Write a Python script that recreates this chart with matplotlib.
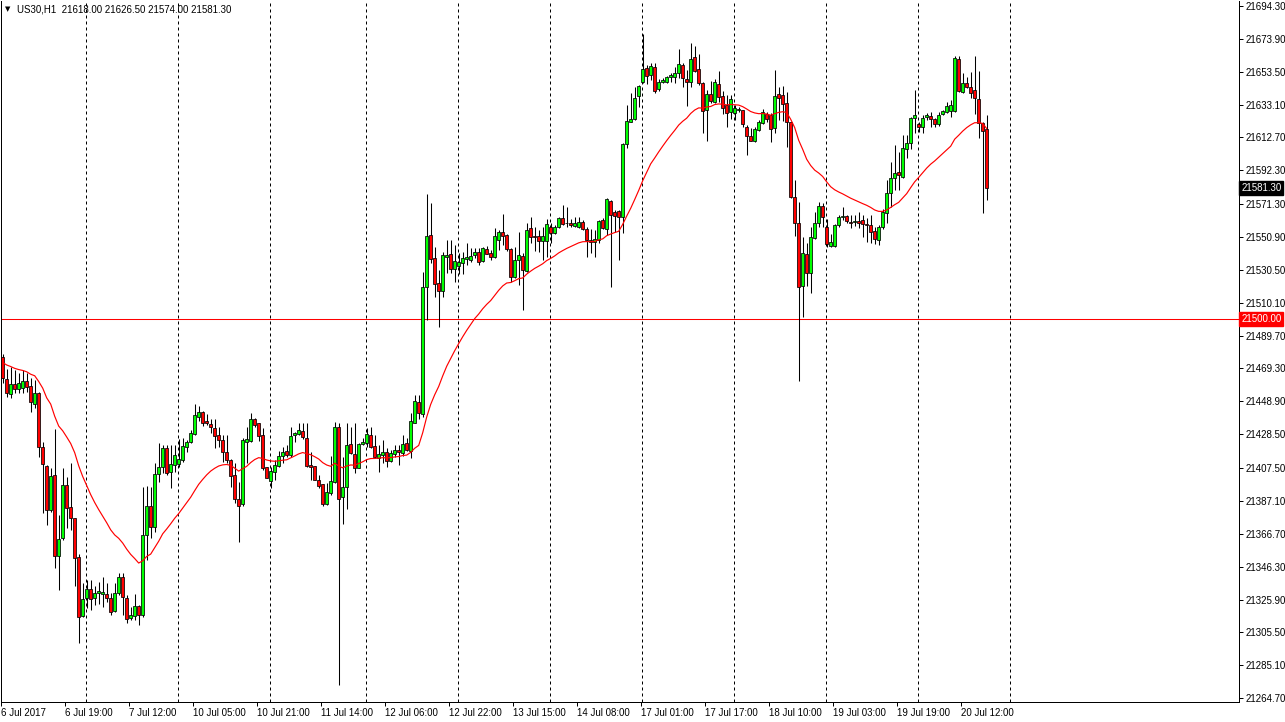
import matplotlib
matplotlib.use("Agg")
import matplotlib.pyplot as plt
import matplotlib.transforms as mtransforms
import numpy as np

# ---------------- data (US30, H1) ----------------
header_symbol = "US30,H1"
header_ohlc = "21618.00 21626.50 21574.00 21581.30"

opens = [
    21476.2, 21462.6, 21453.3, 21459.5, 21456.4, 21457.0, 21461.5, 21458.4, 21447.3, 21454.3,
    21420.4, 21408.8, 21381.5, 21403.2, 21353.1, 21363.9, 21397.0, 21383.5, 21376.3, 21352.1,
    21315.7, 21326.6, 21332.2, 21326.6, 21329.7, 21329.3, 21329.1, 21326.6, 21319.0, 21329.7,
    21340.1, 21326.6, 21314.2, 21315.7, 21321.9, 21316.3, 21366.0, 21383.9, 21370.7, 21403.8,
    21408.4, 21419.7, 21405.3, 21409.4, 21410.0, 21412.5, 21420.4, 21423.9, 21428.6, 21439.4,
    21442.2, 21436.7, 21434.6, 21432.1, 21428.0, 21424.9, 21417.6, 21412.4, 21403.1, 21388.6,
    21385.1, 21423.8, 21424.4, 21437.7, 21435.6, 21428.0, 21407.9, 21399.4, 21405.2, 21408.7,
    21414.9, 21418.0, 21415.3, 21428.0, 21428.6, 21430.5, 21425.9, 21409.1, 21408.7, 21400.4,
    21397.3, 21384.9, 21391.8, 21399.0, 21432.7, 21389.3, 21395.9, 21422.2, 21416.0, 21407.7,
    21422.4, 21422.9, 21428.0, 21421.4, 21413.5, 21415.6, 21417.3, 21412.1, 21416.2, 21418.7,
    21417.1, 21422.9, 21418.3, 21435.7, 21448.3, 21441.0, 21520.1, 21552.2, 21537.7, 21522.2,
    21517.6, 21538.7, 21540.2, 21530.9, 21532.9, 21535.0, 21537.1, 21536.6, 21539.5, 21541.8,
    21536.2, 21543.5, 21540.8, 21538.7, 21549.1, 21553.8, 21552.2, 21543.5, 21526.3, 21536.6,
    21539.1, 21530.0, 21556.3, 21551.5, 21551.5, 21548.6, 21548.6, 21556.9, 21553.6, 21556.9,
    21562.5, 21559.8, 21559.8, 21557.7, 21557.3, 21560.4, 21555.9, 21549.1, 21548.0, 21549.1,
    21561.5, 21555.7, 21573.5, 21566.6, 21567.1, 21563.1, 21608.4, 21622.5, 21623.9, 21638.4,
    21647.3, 21655.6, 21651.5, 21656.6, 21642.6, 21647.3, 21646.9, 21650.4, 21650.4, 21652.5,
    21657.7, 21648.8, 21646.9, 21662.4, 21655.0, 21646.7, 21629.7, 21639.7, 21634.9, 21645.9,
    21638.4, 21632.8, 21628.7, 21627.7, 21629.7, 21629.7, 21619.0, 21613.6, 21610.7, 21617.3,
    21621.5, 21627.3, 21626.6, 21618.8, 21639.7, 21639.1, 21634.3, 21622.5, 21575.9, 21559.8,
    21520.5, 21540.4, 21528.4, 21550.1, 21559.4, 21570.2, 21557.3, 21545.3, 21545.3, 21558.4,
    21563.1, 21564.0, 21560.4, 21560.2, 21560.9, 21561.5, 21559.2, 21558.4, 21554.7, 21549.1,
    21556.9, 21565.6, 21578.4, 21587.3, 21591.1, 21588.4, 21605.8, 21609.5, 21624.6, 21621.1,
    21619.0, 21625.6, 21626.0, 21624.2, 21620.9, 21627.1, 21628.7, 21629.3, 21629.3, 21661.2,
    21641.1, 21646.3, 21644.2, 21642.2, 21636.4, 21621.5, 21618.0,
]
highs = [
    21478.3, 21468.8, 21470.4, 21468.4, 21466.3, 21468.4, 21466.3, 21463.2, 21462.2, 21454.9,
    21423.9, 21409.4, 21407.3, 21431.8, 21378.4, 21407.3, 21402.2, 21410.4, 21376.3, 21354.2,
    21335.9, 21338.0, 21338.0, 21334.3, 21337.0, 21339.7, 21335.9, 21329.7, 21335.9, 21342.2,
    21342.2, 21328.7, 21321.5, 21329.3, 21322.5, 21395.9, 21396.4, 21395.9, 21410.4, 21422.9,
    21421.8, 21421.8, 21421.8, 21421.8, 21425.3, 21425.9, 21424.9, 21431.1, 21447.3, 21446.0,
    21442.9, 21440.8, 21437.7, 21437.7, 21433.1, 21428.0, 21428.0, 21412.9, 21410.8, 21399.0,
    21425.9, 21433.1, 21441.4, 21438.7, 21435.6, 21432.5, 21407.9, 21408.3, 21412.4, 21418.0,
    21420.7, 21421.8, 21433.1, 21430.0, 21435.2, 21435.6, 21435.6, 21417.6, 21408.7, 21403.1,
    21397.3, 21398.0, 21414.9, 21435.8, 21435.6, 21414.5, 21435.2, 21433.1, 21435.2, 21422.8,
    21425.9, 21432.2, 21432.8, 21428.0, 21421.8, 21424.9, 21419.7, 21418.7, 21421.8, 21421.8,
    21428.0, 21425.9, 21441.5, 21452.8, 21452.8, 21529.4, 21577.6, 21571.8, 21544.9, 21530.4,
    21541.8, 21549.1, 21549.1, 21546.0, 21540.8, 21541.8, 21547.4, 21543.9, 21543.9, 21543.9,
    21544.9, 21545.3, 21542.9, 21556.3, 21555.3, 21565.2, 21552.8, 21543.9, 21544.5, 21553.8,
    21541.2, 21559.8, 21563.5, 21557.3, 21555.3, 21556.9, 21561.9, 21559.4, 21558.4, 21563.1,
    21570.8, 21569.7, 21561.9, 21563.1, 21563.5, 21561.5, 21557.3, 21555.7, 21555.3, 21561.5,
    21562.5, 21574.9, 21573.9, 21567.7, 21567.7, 21609.1, 21632.8, 21640.1, 21644.2, 21645.3,
    21676.9, 21657.7, 21658.7, 21658.7, 21648.8, 21649.4, 21650.8, 21652.9, 21656.6, 21667.6,
    21658.7, 21654.6, 21671.1, 21669.5, 21664.5, 21647.3, 21642.2, 21647.9, 21648.8, 21654.2,
    21641.7, 21639.1, 21639.1, 21632.8, 21631.4, 21629.7, 21620.4, 21618.4, 21619.0, 21623.5,
    21630.2, 21628.7, 21627.7, 21654.6, 21644.2, 21644.6, 21641.1, 21622.5, 21586.3, 21572.8,
    21550.7, 21547.0, 21557.3, 21566.6, 21572.8, 21572.2, 21561.9, 21552.8, 21559.0, 21564.6,
    21569.3, 21564.6, 21564.6, 21564.6, 21566.7, 21564.6, 21562.5, 21564.6, 21557.3, 21558.4,
    21568.1, 21586.3, 21597.7, 21608.0, 21603.9, 21614.2, 21614.2, 21625.6, 21642.2, 21622.5,
    21626.7, 21627.7, 21628.7, 21624.6, 21628.7, 21629.8, 21634.9, 21636.0, 21663.3, 21663.3,
    21652.5, 21650.0, 21653.6, 21663.3, 21654.2, 21622.5, 21626.5,
]
lows = [
    21460.1, 21451.8, 21450.8, 21453.9, 21453.9, 21453.9, 21454.9, 21442.5, 21444.6, 21414.6,
    21379.4, 21372.2, 21380.4, 21345.7, 21331.8, 21362.9, 21370.1, 21369.1, 21334.3, 21299.1,
    21315.3, 21320.4, 21319.4, 21322.5, 21323.1, 21321.5, 21324.6, 21316.3, 21318.4, 21328.7,
    21316.3, 21311.1, 21313.2, 21313.2, 21310.1, 21315.3, 21350.4, 21363.9, 21368.0, 21399.1,
    21404.2, 21403.2, 21394.9, 21405.3, 21408.4, 21411.5, 21417.7, 21422.9, 21428.0, 21436.9,
    21433.8, 21434.2, 21429.0, 21419.7, 21420.7, 21411.4, 21410.4, 21395.9, 21386.0, 21361.8,
    21383.9, 21410.4, 21423.8, 21433.1, 21424.2, 21406.6, 21401.1, 21394.9, 21400.0, 21407.9,
    21410.4, 21414.5, 21414.5, 21423.8, 21428.0, 21425.3, 21407.9, 21400.0, 21400.0, 21394.9,
    21383.9, 21384.5, 21390.7, 21398.0, 21272.8, 21372.7, 21382.4, 21416.2, 21404.6, 21407.3,
    21421.8, 21420.8, 21420.2, 21413.5, 21405.3, 21410.4, 21408.0, 21411.5, 21414.6, 21409.4,
    21415.0, 21418.3, 21413.5, 21435.3, 21437.7, 21439.4, 21499.4, 21535.0, 21513.9, 21495.3,
    21513.9, 21528.4, 21528.4, 21523.2, 21527.9, 21527.7, 21533.5, 21535.6, 21537.7, 21533.5,
    21535.6, 21540.4, 21536.6, 21537.7, 21542.9, 21545.9, 21542.4, 21523.2, 21525.3, 21521.1,
    21505.6, 21529.4, 21547.0, 21542.4, 21541.8, 21536.6, 21538.7, 21547.0, 21552.8, 21556.3,
    21558.4, 21556.9, 21557.3, 21556.9, 21556.7, 21555.3, 21538.7, 21541.2, 21538.7, 21547.0,
    21555.7, 21552.2, 21520.1, 21554.2, 21536.6, 21553.2, 21605.9, 21622.5, 21623.5, 21631.8,
    21646.3, 21645.9, 21648.4, 21640.1, 21641.7, 21646.3, 21646.3, 21647.3, 21646.7, 21649.4,
    21644.2, 21632.2, 21643.8, 21653.5, 21645.3, 21615.7, 21610.7, 21633.9, 21634.3, 21634.9,
    21627.3, 21619.4, 21623.9, 21623.5, 21628.7, 21619.4, 21601.8, 21610.7, 21610.1, 21616.9,
    21620.8, 21622.5, 21610.1, 21615.3, 21623.5, 21623.1, 21607.0, 21574.9, 21551.7, 21461.7,
    21501.5, 21520.5, 21516.4, 21549.5, 21557.3, 21556.9, 21544.9, 21544.9, 21544.5, 21557.3,
    21561.5, 21559.4, 21556.3, 21557.8, 21556.3, 21551.1, 21548.0, 21547.0, 21546.6, 21546.0,
    21555.7, 21559.8, 21569.8, 21580.1, 21580.1, 21587.3, 21599.8, 21605.3, 21615.3, 21616.3,
    21615.7, 21623.6, 21619.4, 21619.0, 21619.8, 21626.4, 21627.7, 21625.6, 21628.7, 21641.1,
    21640.1, 21643.2, 21637.0, 21627.3, 21612.2, 21565.6, 21574.0,
]
closes = [
    21463.2, 21453.9, 21459.5, 21456.4, 21460.1, 21461.8, 21457.6, 21448.3, 21453.9, 21420.4,
    21409.8, 21381.5, 21402.6, 21353.1, 21363.3, 21397.0, 21382.5, 21376.3, 21351.5, 21315.3,
    21326.0, 21332.2, 21326.0, 21329.7, 21331.2, 21330.4, 21327.1, 21318.4, 21329.7, 21339.7,
    21327.3, 21313.6, 21316.3, 21321.9, 21316.3, 21366.0, 21383.9, 21370.7, 21403.6, 21408.4,
    21419.7, 21404.2, 21410.0, 21415.6, 21412.9, 21421.2, 21423.9, 21429.5, 21440.4, 21442.5,
    21435.6, 21435.6, 21432.7, 21427.5, 21424.9, 21417.6, 21412.4, 21402.7, 21388.0, 21384.1,
    21424.9, 21425.3, 21437.7, 21434.2, 21427.5, 21407.7, 21401.5, 21405.6, 21409.1, 21414.9,
    21417.2, 21415.3, 21427.3, 21429.0, 21431.1, 21426.5, 21408.7, 21408.3, 21400.4, 21396.5,
    21385.1, 21392.4, 21399.4, 21432.7, 21388.0, 21395.5, 21421.8, 21416.6, 21407.7, 21422.2,
    21423.8, 21428.4, 21420.8, 21414.2, 21416.0, 21417.3, 21412.1, 21416.6, 21418.7, 21417.7,
    21422.2, 21418.7, 21436.7, 21449.1, 21441.9, 21519.7, 21551.5, 21537.3, 21521.5, 21517.6,
    21539.7, 21539.7, 21530.9, 21536.0, 21535.6, 21537.7, 21538.7, 21539.1, 21541.8, 21535.6,
    21543.9, 21540.6, 21538.7, 21551.5, 21554.2, 21551.7, 21543.3, 21526.3, 21536.6, 21539.7,
    21530.4, 21555.3, 21551.1, 21551.1, 21548.6, 21551.5, 21559.0, 21553.2, 21556.9, 21562.5,
    21559.0, 21559.4, 21558.4, 21559.8, 21560.0, 21555.9, 21549.1, 21547.6, 21549.5, 21560.9,
    21556.3, 21574.5, 21564.6, 21564.2, 21563.5, 21608.4, 21622.9, 21624.2, 21637.0, 21644.6,
    21655.0, 21650.8, 21657.1, 21641.7, 21647.3, 21648.4, 21650.4, 21651.5, 21652.5, 21658.3,
    21649.8, 21646.9, 21661.2, 21654.2, 21646.3, 21629.3, 21639.7, 21635.5, 21646.9, 21638.0,
    21631.2, 21628.1, 21636.4, 21630.8, 21630.4, 21620.8, 21613.6, 21610.7, 21617.9, 21622.1,
    21628.7, 21623.9, 21617.9, 21638.4, 21637.4, 21633.5, 21622.5, 21575.9, 21559.4, 21520.1,
    21540.8, 21528.4, 21550.7, 21559.4, 21570.2, 21563.5, 21546.6, 21547.6, 21558.4, 21563.1,
    21564.2, 21561.1, 21559.4, 21560.9, 21559.8, 21558.8, 21558.6, 21554.2, 21549.5, 21556.9,
    21566.7, 21578.0, 21587.3, 21590.4, 21589.2, 21606.0, 21609.1, 21624.6, 21626.4, 21619.4,
    21624.6, 21626.4, 21624.4, 21620.9, 21626.7, 21628.9, 21632.2, 21632.9, 21661.8, 21641.8,
    21646.3, 21643.8, 21640.5, 21637.0, 21621.5, 21616.9, 21581.3,
]

ma_period = 24          # exponential moving average
ma_start_value = 21473.0  # MA value read at the first visible bar

date_labels = ["6 Jul 2017", "6 Jul 19:00", "7 Jul 12:00", "10 Jul 05:00",
               "10 Jul 21:00", "11 Jul 14:00", "12 Jul 06:00", "12 Jul 22:00",
               "13 Jul 15:00", "14 Jul 08:00", "17 Jul 01:00", "17 Jul 17:00",
               "18 Jul 10:00", "19 Jul 03:00", "19 Jul 19:00", "20 Jul 12:00"]
date_label_bars = [0, 16, 32, 48, 64, 80, 96, 112, 128, 144, 160, 176, 192, 208, 224, 240]
separator_bars = [21, 44, 67, 91, 114, 137, 160, 183, 206, 229, 252]

price_ticks = [21694.30, 21673.90, 21653.50, 21633.10, 21612.70, 21592.30, 21571.30,
               21550.90, 21530.50, 21510.10, 21489.70, 21469.30, 21448.90, 21428.50,
               21407.50, 21387.10, 21366.70, 21346.30, 21325.90, 21305.50, 21285.10,
               21264.70]
level_price = 21500.00
last_price = 21581.30

# ---------------- drawing ----------------
FONT = ["Liberation Sans", "DejaVu Sans"]
plt.rcParams["font.family"] = FONT

W, H = 1285, 722
fig = plt.figure(figsize=(W / 100, H / 100), dpi=100)
fig.patch.set_facecolor("white")
ax = fig.add_axes([1 / W, 20 / H, 1238 / W, 701 / H])
ax.set_facecolor("white")

o = np.array(opens); h = np.array(highs); l = np.array(lows); c = np.array(closes)
x = np.arange(len(c))

ax.set_xlim(-0.425, 309.08)
ax.set_ylim(21262.3, 21697.4)

# period separators
for b in separator_bars:
    ax.axvline(b - 0.2, color="black", lw=0.72, linestyle=(0, (3, 3)), zorder=0.5)

# horizontal level
ax.axhline(level_price, color="#ff0000", lw=0.75, zorder=1)

# wicks
ax.vlines(x, l, h, color="black", lw=0.75, zorder=2)
# bodies
up = c >= o
body_bottom = np.minimum(o, c)
body_height = np.maximum(np.abs(c - o), 0.35)
colors = np.where(up, "#00ff00", "#ff0000")
ax.bar(x, body_height, bottom=body_bottom, width=0.72, color=colors,
       edgecolor="black", linewidth=0.55, zorder=3)

# EMA
k = 2.0 / (ma_period + 1)
ema = np.empty(len(c))
ema[0] = ma_start_value
for i in range(1, len(c)):
    ema[i] = ema[i - 1] + k * (c[i] - ema[i - 1])
ax.plot(x, ema, color="#ff0000", lw=0.85, zorder=4)

# axes styling
ax.spines["top"].set_visible(False)
for side in ["left", "right", "bottom"]:
    ax.spines[side].set_linewidth(0.72)
    ax.spines[side].set_color("black")

ax.set_xticks([b - 0.3 for b in date_label_bars])
ax.set_xticklabels(date_labels)
for lab in ax.get_xticklabels():
    lab.set_ha("left")
ax.tick_params(axis="x", direction="out", length=3, width=0.72, pad=1.5,
               labelsize=7, colors="black")

ax.yaxis.tick_right()
ax.set_yticks(price_ticks)
ax.set_yticklabels([f"{p:.2f}" for p in price_ticks])
ax.tick_params(axis="y", direction="out", length=3, width=0.72, pad=1.5,
               labelsize=7, colors="black")

# price boxes on the right scale
trans = mtransforms.blended_transform_factory(ax.transAxes, ax.transData)
ax.text(1.0018, last_price, f"{last_price:.2f}", transform=trans, ha="left",
        va="center", fontsize=7, color="white", zorder=10, clip_on=False,
        bbox=dict(boxstyle="square,pad=0.2", facecolor="black", edgecolor="black"))
ax.text(1.0018, level_price, f"{level_price:.2f}", transform=trans, ha="left",
        va="center", fontsize=7, color="white", zorder=10, clip_on=False,
        bbox=dict(boxstyle="square,pad=0.2", facecolor="#ff0000", edgecolor="#ff0000"))

# header
fig.text(5 / W, 1 - 9 / H, "\u25BC", fontsize=5, va="center", ha="left", color="black",
         family=["DejaVu Sans"])
fig.text(17 / W, 1 - 9 / H, f"{header_symbol}  {header_ohlc}", fontsize=7,
         va="center", ha="left", color="black")

fig.savefig("out.png", dpi=100, facecolor="white")
